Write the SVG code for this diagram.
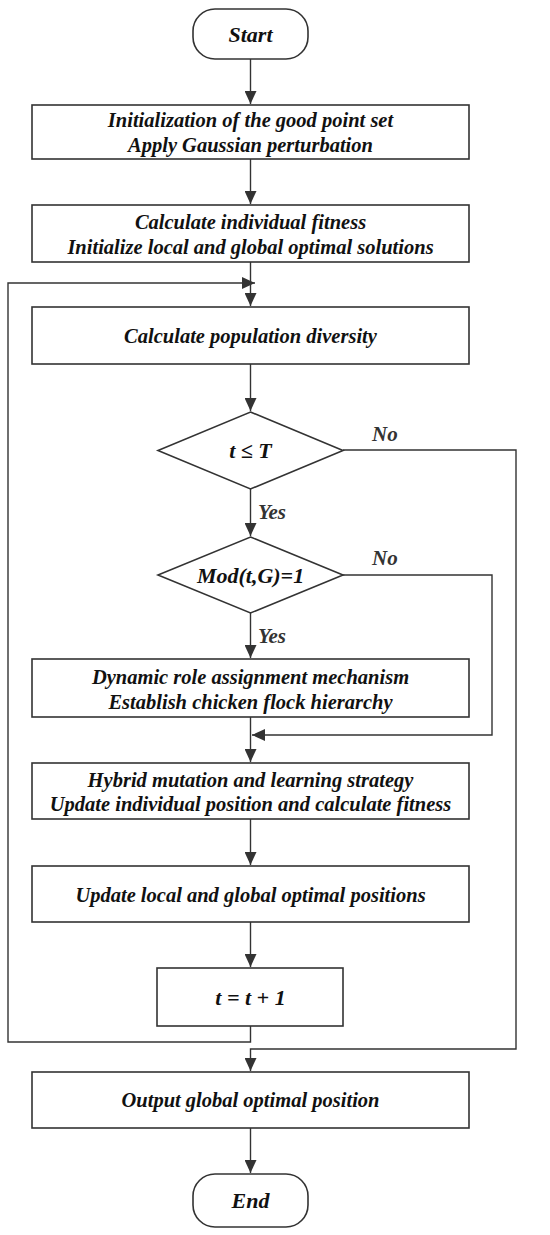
<svg xmlns="http://www.w3.org/2000/svg" width="550" height="1235" viewBox="0 0 550 1235">
<defs>
<marker id="ah" viewBox="0 0 13 12" refX="13" refY="6" markerWidth="13" markerHeight="12" markerUnits="userSpaceOnUse" orient="auto">
<path d="M0,0 L13,6 L0,12 Z" fill="#333"/>
</marker>
<style>
.n{fill:#fff;stroke:#333;stroke-width:1.6}
.c{fill:none;stroke:#333;stroke-width:1.4}
.t{font-family:"Liberation Serif","Times New Roman",serif;font-weight:bold;font-style:italic;font-size:20.5px;fill:#111;text-anchor:middle}
.b{font-size:22px}
.l{font-family:"Liberation Serif","Times New Roman",serif;font-weight:bold;font-style:italic;font-size:21px;fill:#333}
</style>
</defs>
<rect width="550" height="1235" fill="#fff"/>
<g id="connectors">
<path class="c" d="M250.5,59 V104" marker-end="url(#ah)"/>
<path class="c" d="M250.5,159 V204" marker-end="url(#ah)"/>
<path class="c" d="M250.5,262 V306" marker-end="url(#ah)"/>
<path class="c" d="M250.5,364 V411" marker-end="url(#ah)"/>
<path class="c" d="M250.5,489 V536" marker-end="url(#ah)"/>
<path class="c" d="M250.5,613 V658" marker-end="url(#ah)"/>
<path class="c" d="M250.5,717 V762" marker-end="url(#ah)"/>
<path class="c" d="M250.5,819 V865" marker-end="url(#ah)"/>
<path class="c" d="M250.5,922 V967" marker-end="url(#ah)"/>
<path class="c" d="M250.5,1128 V1173" marker-end="url(#ah)"/>
<path class="c" d="M250.5,1026 V1042 H8 V283 H255" marker-end="url(#ah)"/>
<path class="c" d="M343,450 H516 V1049 H250.5 V1071" marker-end="url(#ah)"/>
<path class="c" d="M343,575 H492 V735 H252" marker-end="url(#ah)"/>
<text class="l" x="372" y="441">No</text>
<text class="l" x="372" y="565">No</text>
<text class="l" x="258" y="519">Yes</text>
<text class="l" x="258" y="643">Yes</text>
</g>
<g id="start">
<rect class="n" x="193" y="9" width="115" height="50" rx="22"/>
<text class="t b" x="250.5" y="42">Start</text>
</g>
<g id="init">
<rect class="n" x="32" y="105" width="437" height="54"/>
<text class="t" x="250.5" y="127">Initialization of the good point set</text>
<text class="t" x="250.5" y="152">Apply Gaussian perturbation</text>
</g>
<g id="fitness">
<rect class="n" x="32" y="205" width="437" height="57"/>
<text class="t" x="250.5" y="229">Calculate individual fitness</text>
<text class="t" x="250.5" y="254">Initialize local and global optimal solutions</text>
</g>
<g id="diversity">
<rect class="n" x="32" y="307" width="437" height="57"/>
<text class="t" x="250.5" y="343">Calculate population diversity</text>
</g>
<g id="cond1">
<path class="n" d="M250.5,412 L343,450.5 L250.5,489 L158,450.5 Z"/>
<text class="t b" x="250.5" y="458">t ≤ T</text>
</g>
<g id="cond2">
<path class="n" d="M250.5,537 L343,575 L250.5,613 L158,575 Z"/>
<text class="t b" x="250.5" y="583">Mod(t,G)=1</text>
</g>
<g id="roles">
<rect class="n" x="32" y="659" width="437" height="58"/>
<text class="t" x="250.5" y="684">Dynamic role assignment mechanism</text>
<text class="t" x="250.5" y="709">Establish chicken flock hierarchy</text>
</g>
<g id="hybrid">
<rect class="n" x="32" y="763" width="437" height="56"/>
<text class="t" x="250.5" y="787">Hybrid mutation and learning strategy</text>
<text class="t" x="250.5" y="811">Update individual position and calculate fitness</text>
</g>
<g id="update">
<rect class="n" x="32" y="866" width="437" height="56"/>
<text class="t" x="250.5" y="902">Update local and global optimal positions</text>
</g>
<g id="incr">
<rect class="n" x="157" y="968" width="186" height="58"/>
<text class="t b" x="250.5" y="1005">t = t + 1</text>
</g>
<g id="output">
<rect class="n" x="32" y="1072" width="437" height="56"/>
<text class="t" x="250.5" y="1107">Output global optimal position</text>
</g>
<g id="end">
<rect class="n" x="193" y="1174" width="115" height="53" rx="22"/>
<text class="t b" x="250.5" y="1208">End</text>
</g>
</svg>
